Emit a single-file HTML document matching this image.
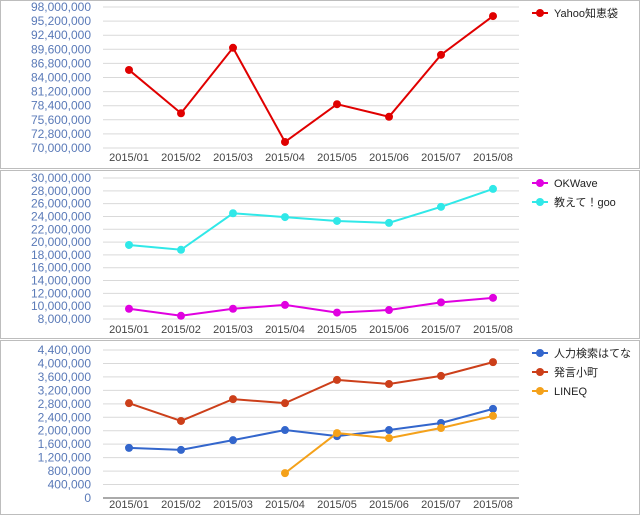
<!DOCTYPE html>
<html><head><meta charset="utf-8"><style>
body{margin:0;background:#fff;}
svg{display:block;font-family:"Liberation Sans","Noto Sans CJK JP",sans-serif;}
</style></head><body>
<svg id="c" width="640" height="515"></svg>
<script>
const categories=["2015/01","2015/02","2015/03","2015/04","2015/05","2015/06","2015/07","2015/08"];
const yahooValues=[85.5e6,76.9e6,89.9e6,71.2e6,78.7e6,76.2e6,88.5e6,96.2e6];
const okwaveValues=[9.6e6,8.5e6,9.6e6,10.2e6,9.0e6,9.4e6,10.6e6,11.3e6];
const gooValues=[19.55e6,18.8e6,24.5e6,23.9e6,23.3e6,23.0e6,25.5e6,28.3e6];
const hatenaValues=[1.49e6,1.43e6,1.72e6,2.02e6,1.84e6,2.02e6,2.23e6,2.65e6];
const komachiValues=[2.82e6,2.29e6,2.94e6,2.82e6,3.51e6,3.39e6,3.63e6,4.04e6];
const lineqValues=[null,null,null,0.74e6,1.93e6,1.78e6,2.08e6,2.44e6];
const ticks1=[70e6,72.8e6,75.6e6,78.4e6,81.2e6,84e6,86.8e6,89.6e6,92.4e6,95.2e6,98e6];
const ticks2=[8e6,10e6,12e6,14e6,16e6,18e6,20e6,22e6,24e6,26e6,28e6,30e6];
const ticks3=[0,0.4e6,0.8e6,1.2e6,1.6e6,2e6,2.4e6,2.8e6,3.2e6,3.6e6,4e6,4.4e6];
const NS="http://www.w3.org/2000/svg";
const svg=document.getElementById('c');
function mk(t,a,p){const e=document.createElementNS(NS,t);for(const k in a)e.setAttribute(k,a[k]);(p||svg).appendChild(e);return e;}
const x0=103,bw=52;
function xs(i){return x0+bw*i+bw/2;}
function panel(name,py0,py1,top,bot,ticks,series,ylab,baseline){
  const g=mk('g',{});
  
  
  const r=mk('rect',{x:0.5,y:py0+0.5,width:639,height:py1-py0-1,fill:'#fff',stroke:'#bdbdbd'},g);
  
  
  const mn=ticks[0],mx=ticks[ticks.length-1];
  const ys=v=>bot-(v-mn)/(mx-mn)*(bot-top);
  ticks.forEach(t=>{
    const l=mk('line',{x1:x0,x2:x0+bw*8,y1:ys(t),y2:ys(t),stroke:(baseline&&t===mn)?'#555':'#d9d9d9','stroke-width':1},g);
    
    
    const tx=mk('text',{x:91,y:ys(t)+4,'text-anchor':'end','font-size':12,fill:'#5a7ab8'},g);
    tx.textContent=t.toLocaleString('en-US');
    
    
  });
  categories.forEach((c,i)=>{
    const tx=mk('text',{x:xs(i),y:ylab,'text-anchor':'middle','font-size':11,fill:'#444'},g);
    tx.textContent=c;
    
    
  });
  series.forEach((s,si)=>{
    let d='';s.v.forEach((v,i)=>{if(v==null)return;d+=(d?'L':'M')+xs(i)+','+ys(v);});
    const p=mk('path',{d:d,fill:'none',stroke:s.c,'stroke-width':2},g);
    
    
    s.v.forEach((v,i)=>{if(v==null)return;
      const c=mk('circle',{cx:xs(i),cy:ys(v),r:4,fill:s.c},g);
      
      
    });
    const ly=py0+13+si*19;
    const lg=mk('g',{},g);
    
    
    mk('line',{x1:532,x2:548,y1:ly,y2:ly,stroke:s.c,'stroke-width':2},lg);
    mk('circle',{cx:540,cy:ly,r:4,fill:s.c},lg);
    const t=mk('text',{x:554,y:ly+4,'font-size':11,fill:'#222'},lg);
    t.textContent=s.n;
  });
}
panel('yahoo-chart',0,169,7,148,ticks1,[{id:'yahoo',n:'Yahoo知恵袋',c:'#e00000',v:yahooValues}],161,false);
panel('okwave-goo-chart',170,339,178,319,ticks2,[{id:'okwave',n:'OKWave',c:'#e000e0',v:okwaveValues},{id:'goo',n:'教えて！goo',c:'#30e8e8',v:gooValues}],333,false);
panel('small-sites-chart',340,515,350,498,ticks3,[{id:'hatena',n:'人力検索はてな',c:'#3366cc',v:hatenaValues},{id:'komachi',n:'発言小町',c:'#cc3f1a',v:komachiValues},{id:'lineq',n:'LINEQ',c:'#f4a11a',v:lineqValues}],508,true);
</script>
</body></html>
